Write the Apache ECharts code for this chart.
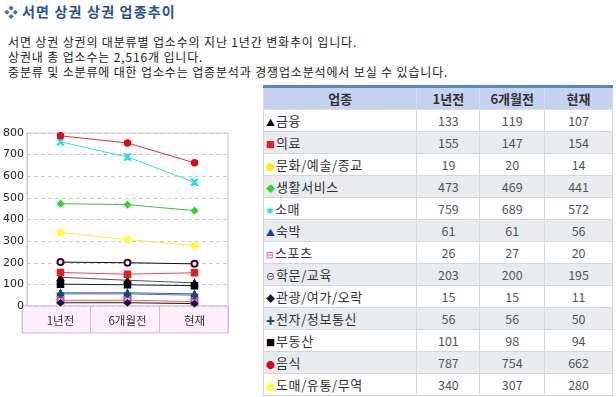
<!DOCTYPE html>
<html>
<head>
<meta charset="utf-8">
<script src="https://cdn.jsdelivr.net/npm/echarts@6/dist/echarts.min.js"></script>
<style>
  body { margin: 0; width: 616px; height: 397px; background: #fff; position: relative; overflow: hidden;
         font-family: "Noto Sans CJK KR", sans-serif; color: #222; }
  .title { position: absolute; left: 4px; top: 1px; font-size: 14px; font-weight: bold; color: #24529a; letter-spacing: 1.2px; }
  .title span { color: #3b72c6; font-size: 14px; margin-right: 4px; letter-spacing: 0; }
  .desc { position: absolute; left: 8px; top: 34px; font-size: 12px; line-height: 15px; color: #222; letter-spacing: 0.85px; }
  #chart { position: absolute; left: 0; top: 120px; width: 240px; height: 225px; }
  table { position: absolute; left: 263px; top: 85px; width: 350px; border-collapse: collapse;
          border-top: 3px solid #5a86c4; font-size: 12px; }
  th { background: #c6d3f0; height: 21px; font-weight: bold; font-size: 13px; color: #333; border: 1px solid #d8dde6; padding: 0; }
  td { height: 21px; border: 1px solid #d4d8dc; padding: 0; text-align: center; color: #555; font-size: 12.5px; }
  td.nm { text-align: left; color: #333; padding-left: 2px; font-size: 13px; letter-spacing: 0.6px; }
  tr.g td { background: #e9ecef; }
  .ic { font-size: 9px; margin-right: 1px; letter-spacing: 0; }
</style>
</head>
<body>
<div class="title"><span>❖</span>서면 상권 상권 업종추이</div>
<div class="desc">서면 상권 상권의 대분류별 업소수의 지난 1년간 변화추이 입니다.<br>상권내 총 업소수는 2,516개 입니다.<br>중분류 및 소분류에 대한 업소수는 업종분석과 경쟁업소분석에서 보실 수 있습니다.</div>
<div id="chart"></div>
<table id="tbl"></table>
<script>
// 기간
var categories = ["1년전", "6개월전", "현재"];
// 업종
var names = ["금융", "의료", "문화/예술/종교", "생활서비스", "소매", "숙박", "스포츠",
             "학문/교육", "관광/여가/오락", "전자/정보통신", "부동산", "음식", "도매/유통/무역"];
// 업소수 (1년전, 6개월전, 현재)
var finance = [133, 119, 107];
var medical = [155, 147, 154];
var culture = [19, 20, 14];
var living = [473, 469, 441];
var retail = [759, 689, 572];
var lodging = [61, 61, 56];
var sports = [26, 27, 20];
var education = [203, 200, 195];
var leisure = [15, 15, 11];
var electronics = [56, 56, 50];
var realEstate = [101, 98, 94];
var food = [787, 754, 662];
var wholesale = [340, 307, 280];
var yTicks = [0, 100, 200, 300, 400, 500, 600, 700, 800];

var allData = [finance, medical, culture, living, retail, lodging, sports,
               education, leisure, electronics, realEstate, food, wholesale];
// 범례 아이콘
var styles = [
  { c: "#000000", line: "#555555", sym: "triangle", ic: "▲" },
  { c: "#ee1c1c", line: "#ff4444", sym: "rect", ic: "■" },
  { c: "#ffee00", line: "#ffee33", sym: "circle", ic: "●" },
  { c: "#22dd22", line: "#33cc33", sym: "diamond", ic: "◆" },
  { c: "#22e0e8", line: "#33e0e8", sym: "path://M0,0L2,0L5,3L8,0L10,0L6,5L10,10L8,10L5,7L2,10L0,10L4,5Z", ic: "✱" },
  { c: "#1a3fa8", line: "#3366bb", sym: "triangle", ic: "▲" },
  { c: "#d23ad2", line: "#dd55dd", sym: "emptyRect", ic: "⊟" },
  { c: "#3a003a", line: "#111111", sym: "emptyCircle", ic: "⊖" },
  { c: "#14143a", line: "#222222", sym: "diamond", ic: "◆" },
  { c: "#164e5a", line: "#4a7ab0", sym: "path://M4,0L6,0L6,4L10,4L10,6L6,6L6,10L4,10L4,6L0,6L0,4L4,4Z", ic: "✚" },
  { c: "#000000", line: "#222222", sym: "rect", ic: "■" },
  { c: "#e8001c", line: "#e83030", sym: "circle", ic: "●" },
  { c: "#ffff33", line: "#f0f040", sym: "circle", ic: "●" }
];

var series = names.map(function (n, i) {
  return {
    name: n,
    type: "line",
    xAxisIndex: 0,
    yAxisIndex: 0,
    data: allData[i],
    symbol: styles[i].sym,
    symbolSize: 6,
    itemStyle: { color: styles[i].c, borderColor: styles[i].c, borderWidth: 1.5 },
    lineStyle: { color: styles[i].line, width: 1 },
    emphasis: { disabled: true }
  };
});

var myChart = echarts.init(document.getElementById("chart"));
myChart.setOption({
  animation: false,
  grid: [
    { left: 22, top: 13, right: 12, bottom: 39, show: true, borderColor: "#c8c8c8", borderWidth: 1, backgroundColor: "#fff" },
    { left: 22, top: 186, right: 12, height: 27, show: true, borderColor: "#cbbfd4", borderWidth: 1, backgroundColor: "#fdeefb" }
  ],
  xAxis: [
    {
      gridIndex: 0, type: "category", data: categories, boundaryGap: true,
      axisLine: { show: false }, axisTick: { show: false },
      axisLabel: { margin: 9, color: "#333", fontSize: 11.5, fontFamily: "Noto Sans CJK KR" },
      splitLine: { show: false }
    },
    {
      gridIndex: 1, type: "category", data: categories, boundaryGap: true,
      axisLine: { show: false }, axisTick: { show: false }, axisLabel: { show: false },
      splitLine: { show: true, lineStyle: { color: "#cbbfd4", width: 1 } }
    }
  ],
  yAxis: [
    {
      gridIndex: 0, type: "value", min: yTicks[0], max: yTicks[yTicks.length - 1], interval: 100,
      axisLine: { show: true, lineStyle: { color: "#c8c8c8" } }, axisTick: { show: false },
      axisLabel: { margin: 3, color: "#222", fontSize: 11, fontFamily: "DejaVu Sans" },
      splitLine: { show: true, lineStyle: { type: [4, 3], color: "#cccccc" } }
    },
    { gridIndex: 1, type: "value", show: false }
  ],
  series: series
});

// 표
var html = "<colgroup><col style='width:154px'><col style='width:63px'><col style='width:65px'><col style='width:68px'></colgroup>";
html += "<tr><th>업종</th>" + categories.map(function (c) { return "<th>" + c + "</th>"; }).join("") + "</tr>";
names.forEach(function (n, i) {
  html += "<tr" + (i % 2 ? " class='g'" : "") + "><td class='nm'><span class='ic' style='color:" + styles[i].c + "'>" +
    styles[i].ic + "</span>" + n + "</td>" +
    allData[i].map(function (v) { return "<td>" + v + "</td>"; }).join("") + "</tr>";
});
document.getElementById("tbl").innerHTML = html;
</script>
</body>
</html>
